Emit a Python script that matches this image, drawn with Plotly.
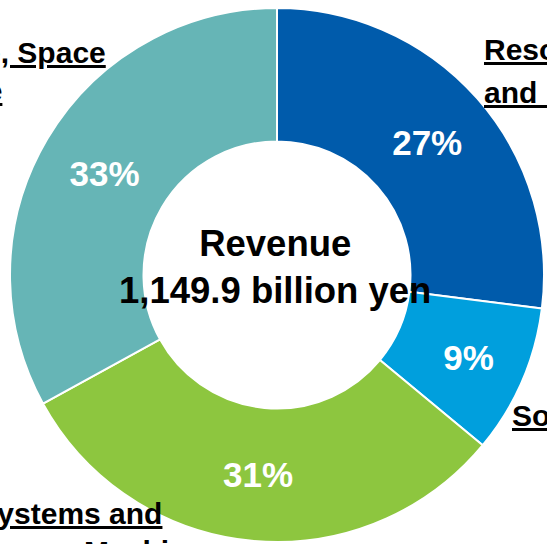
import plotly.graph_objects as go

# Segment revenue shares (%)
segments = [
    "Resources, Energy and Environment",
    "Social Infrastructure and Offshore Facilities",
    "Industrial Systems and General-Purpose Machinery",
    "Aero Engine, Space and Defense",
]
shares = [27, 9, 31, 33]
colors = ["#005BAB", "#009FDD", "#8DC63F", "#66B5B6"]

center_title = "Revenue"
center_value = "1,149.9 billion yen"

W, H = 547, 544
FONT = "Liberation Sans, Arial, sans-serif"


def px_x(x):
    return x / W


def px_y(y):
    return 1 - y / H


fig = go.Figure(
    go.Pie(
        labels=segments,
        values=shares,
        hole=0.5,
        sort=False,
        direction="clockwise",
        rotation=0,
        marker=dict(colors=colors, line=dict(color="white", width=2)),
        texttemplate="%{value}%",
        textposition="inside",
        insidetextorientation="horizontal",
        insidetextfont=dict(family=FONT, size=35, color="white", weight="bold"),
        hoverinfo="label+percent",
        domain=dict(x=[px_x(10), px_x(544)], y=[px_y(542), px_y(8)]),
        showlegend=False,
    )
)

# Outer segment labels, one annotation per line
label_lines = [
    # (text, x_px, xanchor, centre_y_px)
    ("Resources, Energy", 482, "left", 49),
    ("and Environment", 482, "left", 93),
    ("Aero Engine, Space", 108, "right", 52),
    ("and Defense", 4, "right", 91),
    ("Social Infrastructure and Offshore Facilities", 510, "left", 415),
    ("Industrial Systems and", -168, "left", 513),
    ("General-Purpose Machinery", -168, "left", 551),
]

annotations = []
for text, x, xa, y in label_lines:
    annotations.append(
        dict(
            text=f"<u>{text}</u>",
            x=px_x(x), y=px_y(y), xref="paper", yref="paper",
            xanchor=xa, yanchor="middle", showarrow=False, align="left",
            font=dict(family=FONT, size=30, color="black", weight="bold"),
        )
    )

annotations.append(
    dict(
        text=f"{center_title}<br>{center_value}",
        x=px_x(275), y=px_y(267), xref="paper", yref="paper",
        xanchor="center", yanchor="middle", showarrow=False, align="center",
        font=dict(family=FONT, size=36.5, color="black", weight="bold"),
    )
)

fig.update_layout(
    width=W, height=H,
    margin=dict(l=0, r=0, t=0, b=0),
    paper_bgcolor="white",
    plot_bgcolor="white",
    annotations=annotations,
)

fig.write_html("out.html")
